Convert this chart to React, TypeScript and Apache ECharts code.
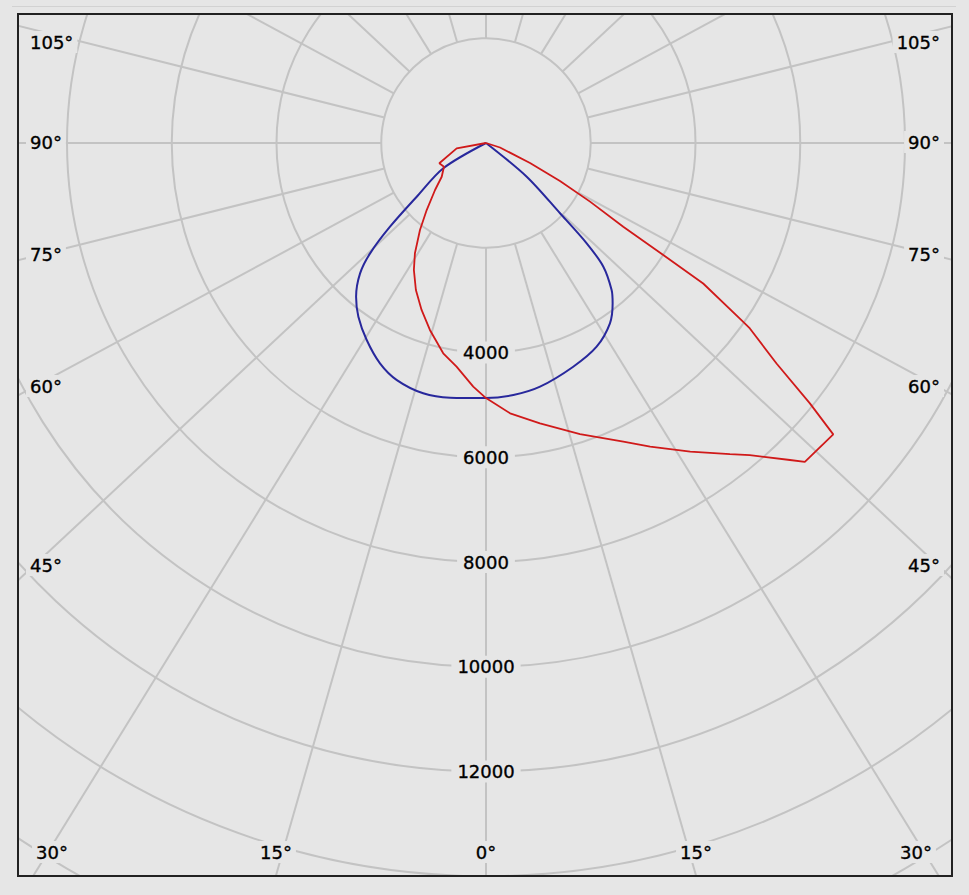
import React, { useEffect, useRef } from "react";
import * as echarts from "echarts";

// ---- data ----
// radial intensity ticks (cd) that carry a label
const radiusLabelValues = [4000, 6000, 8000, 10000, 12000];
// angular grid (gamma, degrees; 0 = nadir, positive = right half)
const spokeGammas = [0, 15, 30, 45, 60, 75, 90, 105, 120, 135, 150, 165, 180, -165, -150, -135, -120, -105, -90, -75, -60, -45, -30, -15];
// angle tick labels
const sideAngleLabels = ["105°", "90°", "75°", "60°", "45°"];
const bottomAngleLabels = ["30°", "15°", "0°", "15°", "30°"];

// blue curve: gamma angle (deg) and intensity (cd)
const blueAngles = [-90, -59.4, -52.2, -48.9, -46.4, -44.0, -40.2, -36.3, -31.2, -25.7, -20.6, -14.1, -8.0, 0, 6.2, 12.5, 21.3, 28.5, 34.5, 38.3, 40.5, 43.5, 45.1, 46.5, 50.4, 90];
const blueValues = [0, 947, 1674, 2432, 3056, 3461, 3843, 4116, 4397, 4668, 4836, 4927, 4911, 4870, 4840, 4766, 4585, 4426, 4178, 3901, 3693, 3255, 2714, 1949, 1009, 0];

// red curve: gamma angle (deg) and intensity (cd)
const redAngles = [-90, -79.7, -66.5, -60.6, -52.7, -47.3, -41.5, -37.2, -32.8, -29.6, -25.5, -21.1, -16.7, -11.5, -7.5, -3.0, 0, 5.1, 10.9, 17.9, 24.7, 28.4, 33.5, 38.1, 40.2, 43.8, 45.0, 50.0, 51.2, 52.8, 54.9, 55.2, 57.1, 57.7, 58.6, 60.6, 62.8, 65.6, 72.2, 90];
const redValues = [0, 569, 972, 921, 1063, 1324, 1709, 2085, 2505, 2788, 3109, 3417, 3727, 4097, 4307, 4659, 4870, 5181, 5450, 5839, 6276, 6590, 7065, 7547, 7803, 8386, 8609, 8655, 7935, 6964, 6158, 5981, 4939, 4004, 3070, 2280, 1588, 923, 281, 0];

// ---- layout / style ----
const BG = "#e6e6e6";
const GRID = "#c3c3c3";
const FONT = '"DejaVu Sans", Verdana, sans-serif';
const CHART_W = 932;
const CHART_H = 860;
const CENTER: [number, number] = [467, 128];
const RADIUS_MAX_VALUE = 18000;
const RADIUS_PX = 942.75;
const SPOKE_STRETCH = 1.07; // the reference's angular grid is slightly stretched horizontally
const sideLabelY = [27, 127, 239, 371, 550];
const bottomLabelX = [33, 257, 467, 677, 897];

const toAxisAngle = (g: number) => ((g % 360) + 360) % 360;
const stretched = (g: number) => {
  const r = (g * Math.PI) / 180;
  return (Math.atan2(SPOKE_STRETCH * Math.sin(r), Math.cos(r)) * 180) / Math.PI;
};

export default function App() {
  const ref = useRef<HTMLDivElement>(null);

  useEffect(() => {
    if (!ref.current) return;
    const chart = echarts.init(ref.current, undefined, { renderer: "svg" });

    const spokeSeries = spokeGammas.map((g) => ({
      type: "line",
      coordinateSystem: "polar",
      data: [
        [2000, toAxisAngle(stretched(g))],
        [RADIUS_MAX_VALUE, toAxisAngle(stretched(g))],
      ],
      symbol: "none",
      silent: true,
      clip: false,
      z: 1,
      lineStyle: { color: GRID, width: 2 },
    }));

    const curve = (angles: number[], values: number[], color: string, width: number, smooth: number | boolean) => ({
      type: "line",
      coordinateSystem: "polar",
      data: angles.map((a, i) => [values[i], toAxisAngle(a)]),
      symbol: "none",
      smooth,
      clip: false,
      silent: true,
      z: 5,
      lineStyle: { color, width },
    });

    const textStyleBase = {
      fill: "#000",
      font: `18px ${FONT}`,
      backgroundColor: BG,
      padding: [2, 4],
      stroke: "#000",
      lineWidth: 0.35,
    };

    const graphics: any[] = [];
    sideAngleLabels.forEach((t, i) => {
      graphics.push({
        type: "text",
        z: 20,
        style: { ...textStyleBase, text: t, x: 7, y: sideLabelY[i], textAlign: "left", align: "left", textVerticalAlign: "middle", verticalAlign: "middle" },
      });
      graphics.push({
        type: "text",
        z: 20,
        style: { ...textStyleBase, text: t, x: 925, y: sideLabelY[i], textAlign: "right", align: "right", textVerticalAlign: "middle", verticalAlign: "middle" },
      });
    });
    bottomAngleLabels.forEach((t, i) => {
      graphics.push({
        type: "text",
        z: 20,
        style: { ...textStyleBase, text: t, x: bottomLabelX[i], y: 837, textAlign: "center", align: "center", textVerticalAlign: "middle", verticalAlign: "middle" },
      });
    });

    chart.setOption({
      animation: false,
      backgroundColor: BG,
      polar: { center: CENTER, radius: [0, RADIUS_PX] },
      angleAxis: {
        type: "value",
        min: 0,
        max: 360,
        startAngle: 270,
        clockwise: false,
        show: false,
      },
      radiusAxis: {
        type: "value",
        min: 0,
        max: RADIUS_MAX_VALUE,
        interval: 2000,
        z: 3,
        axisLine: { show: false },
        axisTick: { show: false },
        splitLine: { show: true, lineStyle: { color: GRID, width: 2 } },
        axisLabel: {
          show: true,
          customValues: radiusLabelValues,
          formatter: (v: number) => String(v),
          margin: 0,
          align: "center",
          verticalAlign: "middle",
          color: "#000",
          fontSize: 18,
          fontFamily: FONT,
          textBorderColor: "#000",
          textBorderWidth: 0.35,
          backgroundColor: BG,
          padding: [1, 6],
          lineHeight: 20,
        },
      },
      series: [
        ...spokeSeries,
        curve(blueAngles, blueValues, "#28289c", 2, 0.3),
        curve(redAngles, redValues, "#d01a1a", 1.8, false),
      ],
      graphic: graphics,
    });

    return () => chart.dispose();
  }, []);

  return (
    <div style={{ position: "fixed", left: 0, top: 0, width: 969, height: 895, background: BG, overflow: "hidden" }}>
      <div style={{ position: "absolute", left: 12, top: 6, width: 944, height: 1, background: "#d2d2d2" }} />
      <div
        style={{
          position: "absolute",
          left: 17,
          top: 13,
          width: CHART_W + 4,
          height: CHART_H + 4,
          border: "2px solid #222",
          boxSizing: "border-box",
          overflow: "hidden",
        }}
      >
        <div ref={ref} style={{ width: CHART_W, height: CHART_H, overflow: "hidden" }} />
      </div>
    </div>
  );
}
